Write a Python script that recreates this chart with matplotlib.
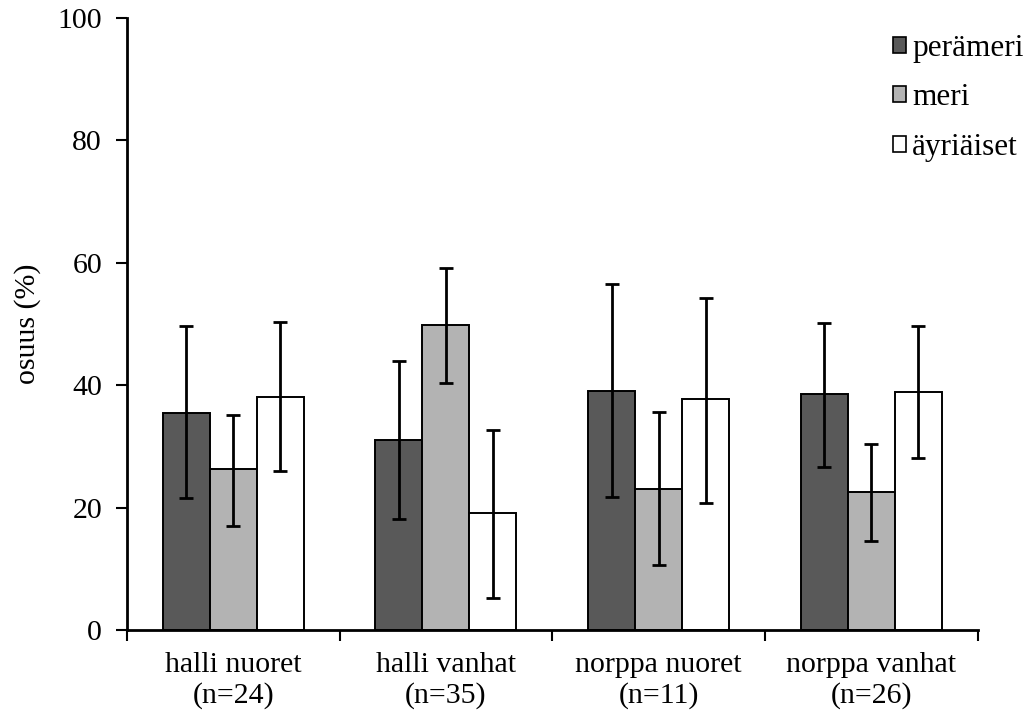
import numpy as np
import matplotlib
matplotlib.use("Agg")
import matplotlib.pyplot as plt
from matplotlib.ticker import FixedLocator, NullFormatter

plt.rcParams['font.family'] = ['Liberation Serif', 'DejaVu Serif']

# Group labels and mean shares (%) with error bar extents
groups = ["halli nuoret\n(n=24)", "halli vanhat\n(n=35)",
          "norppa nuoret\n(n=11)", "norppa vanhat\n(n=26)"]
series = ["perämeri", "meri", "äyriäiset"]

peramer = [35.5, 31.0, 39.1, 38.5]
peramer_lo = [21.5, 18.1, 21.8, 26.7]
peramer_hi = [49.7, 44.0, 56.5, 50.2]

meri = [26.3, 49.9, 23.1, 22.5]
meri_lo = [17.0, 40.4, 10.6, 14.5]
meri_hi = [35.1, 59.2, 35.6, 30.4]

ayriaiset = [38.1, 19.2, 37.7, 38.9]
ayriaiset_lo = [26.0, 5.3, 20.7, 28.1]
ayriaiset_hi = [50.3, 32.7, 54.2, 49.6]

colors = ["#595959", "#b3b3b3", "#ffffff"]

fig = plt.figure(figsize=(10.26, 7.22), dpi=100)
ax = fig.add_axes([0.1238, 0.1274, 0.829, 0.8476])

x = np.arange(len(groups)) + 0.5
width = 0.221
data = [(peramer, peramer_lo, peramer_hi),
        (meri, meri_lo, meri_hi),
        (ayriaiset, ayriaiset_lo, ayriaiset_hi)]

for i, (vals, lo, hi) in enumerate(data):
    vals = np.array(vals)
    yerr = [vals - np.array(lo), np.array(hi) - vals]
    pos = x + (i - 1) * width
    ax.bar(pos, vals, width, color=colors[i], edgecolor="black",
           linewidth=1.4, label=series[i], zorder=2)
    ax.errorbar(pos, vals, yerr=yerr, fmt="none", ecolor="black",
                elinewidth=2, capsize=5, capthick=2, zorder=3)

ax.set_xlim(0, 4)
ax.set_ylim(0, 100)
ax.set_yticks(range(0, 101, 20))
ax.xaxis.set_major_locator(FixedLocator(np.arange(0, 5)))
ax.xaxis.set_major_formatter(NullFormatter())
ax.xaxis.set_minor_locator(FixedLocator(x))
ax.set_xticklabels(groups, minor=True, linespacing=1.2)
ax.tick_params(axis="x", which="minor", length=0, pad=16, labelsize=21.5)
ax.tick_params(axis="x", which="major", length=8, width=1.5, direction="out")
ax.tick_params(axis="y", length=8, width=1.5, direction="out", labelsize=21.5, pad=10)

for s in ["top", "right"]:
    ax.spines[s].set_visible(False)
for s in ["left", "bottom"]:
    ax.spines[s].set_linewidth(2)

ax.set_ylabel("osuus (%)", fontsize=21.5, labelpad=12)

leg = ax.legend(loc="upper right", bbox_to_anchor=(1.08, 1.01), frameon=False,
                fontsize=22.5, handlelength=0.42, handleheight=0.42,
                handletextpad=0.2, labelspacing=0.66, borderaxespad=0.3)
for h in leg.legend_handles:
    h.set_linewidth(1.2)

fig.savefig("out.png", dpi=100)
